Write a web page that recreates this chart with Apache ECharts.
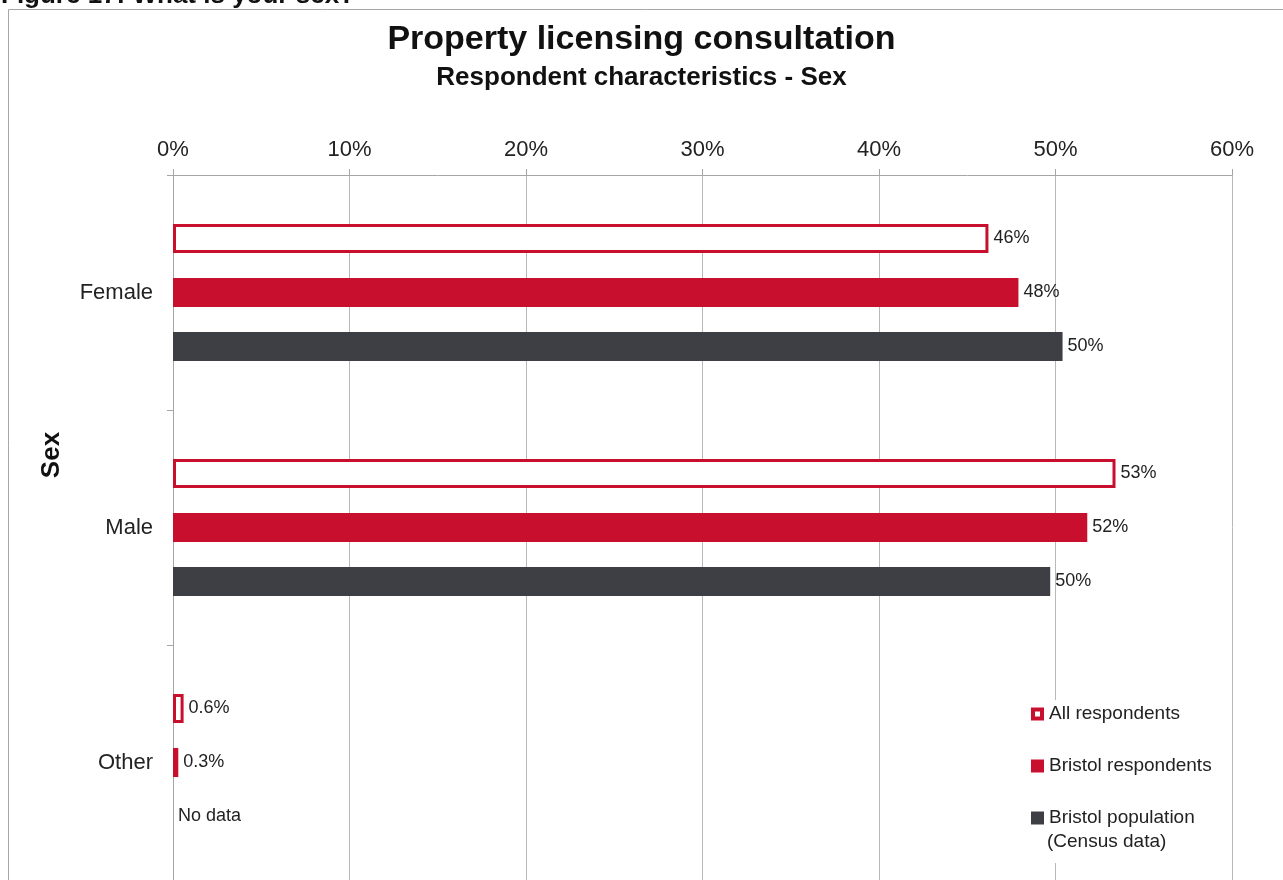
<!DOCTYPE html>
<html>
<head>
<meta charset="utf-8">
<title>Property licensing consultation - Sex</title>
<script src="https://cdn.jsdelivr.net/npm/echarts@6/dist/echarts.min.js"></script>
<style>
  html, body { margin: 0; padding: 0; background: #fff; }
  #chart { width: 1283px; height: 880px; }
</style>
</head>
<body>
<div id="chart"></div>
<script>
const categories = ['Female', 'Male', 'Other']
const seriesNames = ['All respondents', 'Bristol respondents', 'Bristol population (Census data)']

// values (percent)
const allRespondents = [46.2, 53.4, 0.6]
const bristolRespondents = [47.9, 51.8, 0.3]
const bristolPopulation = [50.4, 49.7, 0]

// printed data labels
const allLabels = ['46%', '53%', '0.6%']
const bristolLabels = ['48%', '52%', '0.3%']
const populationLabels = ['50%', '50%', 'No data']

const RED = '#C8102E'
const DARK = '#3D3F45'
const FONT = '"Liberation Sans", Arial, sans-serif'

const chart = echarts.init(document.getElementById('chart'))

function labelFor(texts) {
  return {
    show: true,
    position: 'right',
    distance: 5,
    fontFamily: FONT,
    fontSize: 18,
    color: '#222',
    formatter: (p) => texts[p.dataIndex]
  }
}

chart.setOption({
  animation: false,
  textStyle: { fontFamily: FONT },
  title: {
    text: 'Property licensing consultation',
    subtext: 'Respondent characteristics - Sex',
    left: 'center',
    top: 18,
    itemGap: 8,
    textStyle: { fontFamily: FONT, fontSize: 34, fontWeight: 'bold', color: '#111' },
    subtextStyle: { fontFamily: FONT, fontSize: 26, fontWeight: 'bold', color: '#111' }
  },
  graphic: [
    {
      type: 'rect',
      silent: true,
      shape: { x: 8.5, y: 9.5, width: 1400, height: 1000 },
      style: { fill: 'none', stroke: '#a6a6a6', lineWidth: 1 }
    },
    {
      // caption above the chart, cut off by the page edge
      type: 'text',
      left: 1,
      top: -17,
      style: {
        text: 'Figure 17: What is your sex?',
        font: 'bold 26px ' + FONT,
        fill: '#111'
      }
    },
    {
      type: 'text',
      x: 52,
      y: 455,
      rotation: Math.PI / 2,
      style: {
        text: 'Sex',
        font: 'bold 26px ' + FONT,
        fill: '#111',
        align: 'center',
        verticalAlign: 'middle'
      }
    },
    {
      // white box behind the legend, hides the gridline there
      type: 'rect',
      silent: true,
      z: 3,
      shape: { x: 1027, y: 700, width: 196, height: 163 },
      style: { fill: '#fff' }
    },
    {
      type: 'text',
      z: 5,
      left: 1047,
      top: 832,
      style: {
        text: '(Census data)',
        font: '19px ' + FONT,
        fill: '#222'
      }
    }
  ],
  legend: {
    orient: 'vertical',
    left: 1026,
    top: 698,
    z: 5,
    itemGap: 30,
    itemWidth: 13,
    itemHeight: 13,
    icon: 'rect',
    data: [
      {
        name: seriesNames[0],
        icon: 'path://M0,0H13V13H0Z M4,4V9H9V4Z',
        itemStyle: { color: RED, borderWidth: 0 }
      },
      { name: seriesNames[1] },
      { name: seriesNames[2] }
    ],
    formatter: (name) => name === seriesNames[2] ? 'Bristol population' : name,
    textStyle: { fontFamily: FONT, fontSize: 19, color: '#222', lineHeight: 22 }
  },
  grid: {
    left: 173,
    top: 175,
    right: 51,
    height: 708
  },
  xAxis: {
    type: 'value',
    position: 'top',
    min: 0,
    max: 60,
    interval: 10,
    axisLine: { show: true, lineStyle: { color: '#a6a6a6' } },
    axisTick: { show: true, length: 6, lineStyle: { color: '#a6a6a6' } },
    splitLine: { show: true, lineStyle: { color: '#b8b8b8', width: 1 } },
    axisLabel: {
      formatter: '{value}%',
      margin: 14,
      fontFamily: FONT,
      fontSize: 22,
      color: '#222'
    }
  },
  yAxis: {
    type: 'category',
    data: categories,
    inverse: true,
    axisLine: { show: true, lineStyle: { color: '#a6a6a6' } },
    axisTick: { show: true, length: 6, lineStyle: { color: '#a6a6a6' } },
    axisLabel: { margin: 20, fontFamily: FONT, fontSize: 22, color: '#222' }
  },
  series: [
    {
      name: seriesNames[0],
      type: 'bar',
      data: allRespondents,
      barWidth: 29,
      barGap: '86.2%',
      itemStyle: { color: '#fff', borderColor: RED, borderWidth: 3 },
      label: labelFor(allLabels)
    },
    {
      name: seriesNames[1],
      type: 'bar',
      data: bristolRespondents,
      barWidth: 29,
      itemStyle: { color: RED },
      label: labelFor(bristolLabels)
    },
    {
      name: seriesNames[2],
      type: 'bar',
      data: bristolPopulation,
      barWidth: 29,
      itemStyle: { color: DARK },
      label: labelFor(populationLabels)
    }
  ]
})
</script>
</body>
</html>
